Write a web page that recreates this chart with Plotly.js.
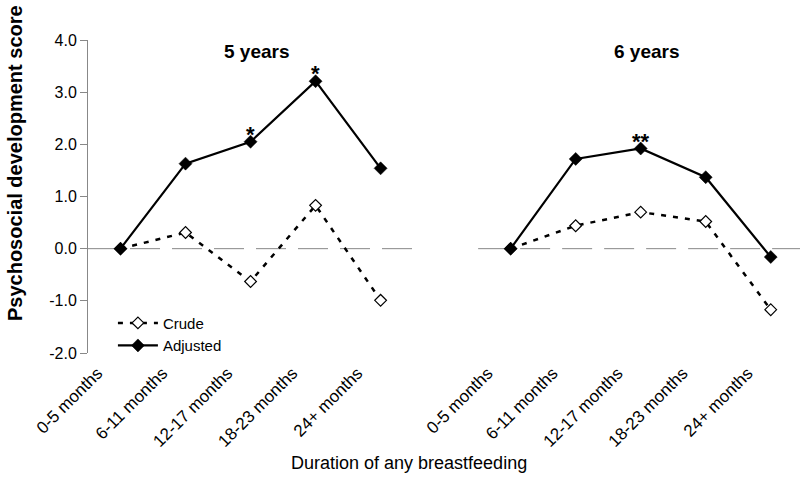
<!DOCTYPE html>
<html><head><meta charset="utf-8">
<script src="https://cdn.plot.ly/plotly-3.0.1.min.js"></script>
<style>html,body{margin:0;padding:0;background:#fff}#chart{width:800px;height:478px}</style>
</head><body><div id="chart"></div>
<script>
// ---- data ----
const categories = ['0-5 months', '6-11 months', '12-17 months', '18-23 months', '24+ months'];
const groups = ['5 years', '6 years'];
const crude5 = [0, 0.31, -0.63, 0.83, -0.99];
const adjusted5 = [0, 1.63, 2.05, 3.21, 1.54];
const crude6 = [0, 0.44, 0.70, 0.52, -1.17];
const adjusted6 = [0, 1.72, 1.92, 1.37, -0.16];
const sig5 = ['', '', '*', '*', ''];
const sig6 = ['', '', '**', '', ''];
const yTicks = [-2, -1, 0, 1, 2, 3, 4];
const seriesNames = ['Crude', 'Adjusted'];
const xTitle = 'Duration of any breastfeeding';
const yTitle = 'Psychosocial development score';

// ---- build ----
const FONT = 'Liberation Sans, Arial, Helvetica, sans-serif';
const crudeByGroup = [crude5, crude6];
const adjByGroup = [adjusted5, adjusted6];
const sigByGroup = [sig5, sig6];
const slot = categories.length + 1;
const xs = [], crudeY = [], adjY = [], tickvals = [], ticktext = [];
const annotations = [];
groups.forEach((g, gi) => {
  categories.forEach((c, ci) => {
    const x = gi * slot + ci;
    xs.push(x); tickvals.push(x); ticktext.push(c);
    crudeY.push(crudeByGroup[gi][ci]);
    adjY.push(adjByGroup[gi][ci]);
    const s = sigByGroup[gi][ci];
    if (s) annotations.push({x: x, y: adjByGroup[gi][ci], xref: 'x', yref: 'y', text: '<b>' + s + '</b>',
      showarrow: false, yanchor: 'bottom', yshift: -7, font: {family: FONT, size: 22, color: '#000'}});
  });
  annotations.push({x: gi * slot + 2.1, y: 3.78, xref: 'x', yref: 'y', text: '<b>' + g + '</b>',
    showarrow: false, xanchor: 'center', yanchor: 'middle', font: {family: FONT, size: 19, color: '#000'}});
  if (gi < groups.length - 1) { xs.push(gi * slot + categories.length); crudeY.push(null); adjY.push(null); }
});
annotations.push({x: 0.451, y: -0.35, xref: 'paper', yref: 'paper', text: xTitle, showarrow: false,
  xanchor: 'center', yanchor: 'middle', font: {family: FONT, size: 18, color: '#000'}});
annotations.push({x: -0.1025, y: 0.607, xref: 'paper', yref: 'paper', text: '<b>' + yTitle + '</b>', showarrow: false,
  textangle: -90, xanchor: 'center', yanchor: 'middle', font: {family: FONT, size: 20, color: '#000'}});

const traces = [
  {x: xs, y: crudeY, name: seriesNames[0], type: 'scatter', mode: 'lines+markers', connectgaps: false,
   line: {color: '#000', width: 2.5, dash: '5px,7px'},
   marker: {symbol: 'diamond', size: 9, color: '#fff', line: {color: '#000', width: 1.2}}},
  {x: xs, y: adjY, name: seriesNames[1], type: 'scatter', mode: 'lines+markers', connectgaps: false,
   line: {color: '#000', width: 2.2},
   marker: {symbol: 'diamond', size: 10, color: '#000', line: {color: '#000', width: 0.5}}}
];

const layout = {
  width: 800, height: 478,
  margin: {l: 88, r: 0, t: 40, b: 125},
  paper_bgcolor: '#fff', plot_bgcolor: '#fff',
  font: {family: FONT, color: '#000'},
  showlegend: true,
  legend: {x: 0.035, y: 0.148, xanchor: 'left', yanchor: 'top', bgcolor: 'rgba(0,0,0,0)',
    font: {family: FONT, size: 15, color: '#000'}, itemwidth: 40, tracegroupgap: 0},
  xaxis: {range: [-0.5, 10.45], tickmode: 'array', tickvals: tickvals, ticktext: ticktext,
    tickangle: -45, showline: false, showgrid: false, zeroline: false, ticks: '',
    tickfont: {family: FONT, size: 17, color: '#000'}, ticklabelshift: -23, ticklabelstandoff: 6},
  yaxis: {range: [-2, 4], tickmode: 'array', tickvals: yTicks, ticktext: yTicks.map(v => v.toFixed(1)),
    ticks: 'outside', ticklen: 7, tickcolor: '#888', showline: true, linecolor: '#888', linewidth: 1,
    showgrid: false, zeroline: false, tickfont: {family: FONT, size: 16, color: '#000'}},
  shapes: [
    {type: 'line', xref: 'x', yref: 'y', x0: -0.5, x1: 4.5, y0: 0, y1: 0, layer: 'below',
     line: {color: '#888', width: 1, dash: '30px,12px'}},
    {type: 'line', xref: 'x', yref: 'y', x0: 5.5, x1: 10.45, y0: 0, y1: 0, layer: 'below',
     line: {color: '#888', width: 1, dash: '30px,12px'}}
  ],
  annotations: annotations
};
Plotly.newPlot('chart', traces, layout, {displayModeBar: false, staticPlot: true});
</script>
</body></html>
